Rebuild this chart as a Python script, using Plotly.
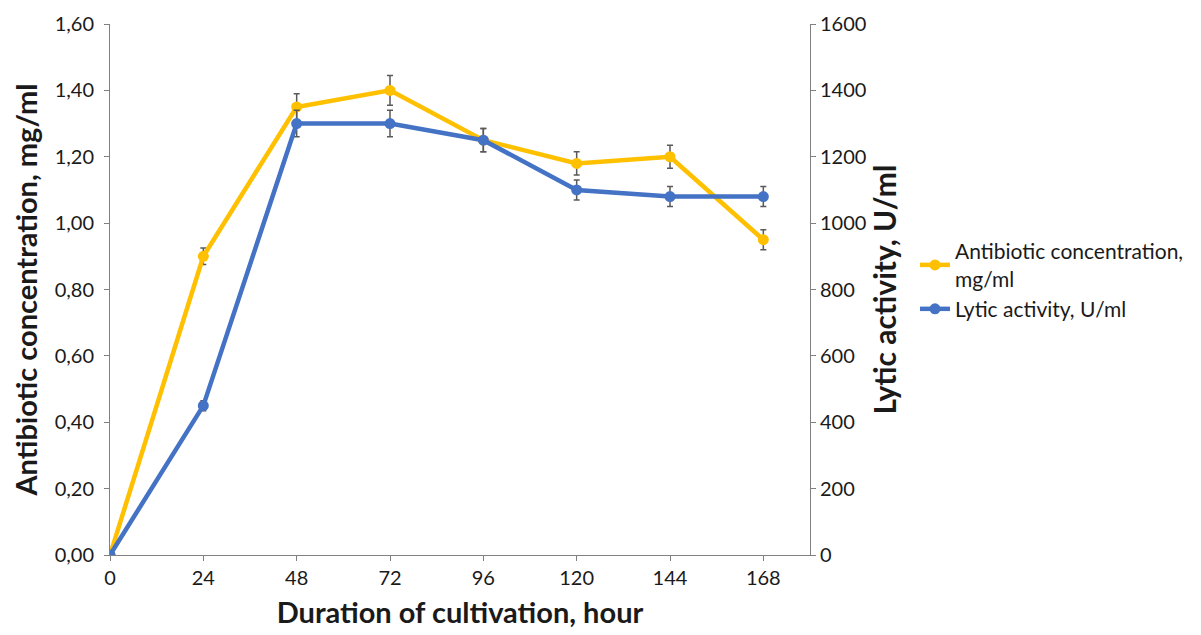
import plotly.graph_objects as go

hours = [0, 24, 48, 72, 96, 120, 144, 168]
antibiotic = [0.0, 0.90, 1.35, 1.40, 1.25, 1.18, 1.20, 0.95]
antibiotic_err = [0.0, 0.025, 0.04, 0.045, 0.035, 0.035, 0.035, 0.03]
lytic = [0, 450, 1300, 1300, 1250, 1100, 1080, 1080]
lytic_err = [0, 15, 40, 40, 35, 30, 30, 30]
left_ticks = [0, 0.2, 0.4, 0.6, 0.8, 1.0, 1.2, 1.4, 1.6]
left_labels = [f"{v:.2f}".replace(".", ",") for v in left_ticks]
right_ticks = [0, 200, 400, 600, 800, 1000, 1200, 1400, 1600]

YELLOW = "#FFC000"
BLUE = "#4472C4"
GRAY = "#595959"
FONT = "Lato"
TXT = "#1a1a1a"

fig = go.Figure()
fig.add_trace(go.Scatter(
    x=hours, y=antibiotic, name="Antibiotic concentration,<br>mg/ml",
    mode="lines+markers", line=dict(color=YELLOW, width=4.5),
    marker=dict(color=YELLOW, size=11),
    error_y=dict(type="data", array=antibiotic_err, color=GRAY, thickness=1.5, width=3),
    yaxis="y"))
fig.add_trace(go.Scatter(
    x=hours, y=lytic, name="Lytic activity, U/ml",
    mode="lines+markers", line=dict(color=BLUE, width=4.5),
    marker=dict(color=BLUE, size=11),
    error_y=dict(type="data", array=lytic_err, color=GRAY, thickness=1.5, width=3),
    yaxis="y2"))

axis_common = dict(showgrid=False, zeroline=False, showline=True, linecolor="#808080",
                   linewidth=1, ticks="outside", tickcolor="#808080", ticklen=5)

fig.update_layout(
    width=1201, height=635,
    margin=dict(l=110, r=388, t=24, b=80),
    paper_bgcolor="white", plot_bgcolor="white",
    font=dict(family=FONT, color=TXT),
    xaxis=dict(range=[0, 180], tickvals=hours, ticktext=[str(h) for h in hours],
               tickfont=dict(family=FONT, size=20, color=TXT),
               title=dict(text="<b>Duration of cultivation, hour</b>",
                          font=dict(family=FONT, size=29, color=TXT), standoff=14),
               **axis_common),
    yaxis=dict(range=[0, 1.6], tickvals=left_ticks, ticktext=left_labels,
               tickfont=dict(family=FONT, size=20, color=TXT), ticklabelstandoff=6,
               title=dict(text="<b>Antibiotic concentration, mg/ml</b>",
                          font=dict(family=FONT, size=29, color=TXT), standoff=8),
               **axis_common),
    yaxis2=dict(range=[0, 1600], tickvals=right_ticks, overlaying="y", side="right",
                anchor="x", position=1,
                tickfont=dict(family=FONT, size=20, color=TXT),
                title=dict(text="<b>Lytic activity, U/ml</b>",
                           font=dict(family=FONT, size=30, color=TXT), standoff=8),
                **axis_common),
    legend=dict(x=1.15, y=0.61, xanchor="left", yanchor="top",
                font=dict(family=FONT, size=21, color=TXT),
                bgcolor="rgba(0,0,0,0)", itemwidth=30, tracegroupgap=0),
)

fig.write_html("out.html")
